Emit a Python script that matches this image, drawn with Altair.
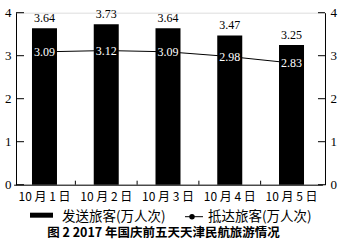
import altair as alt
import pandas as pd

days = ["10 月 1 日", "10 月 2 日", "10 月 3 日", "10 月 4 日", "10 月 5 日"]
depart = [3.64, 3.73, 3.64, 3.47, 3.25]
arrive = [3.09, 3.12, 3.09, 2.98, 2.83]
yticks = [0, 1, 2, 3, 4]
legend_labels = ["发送旅客(万人次)", "抵达旅客(万人次)"]
title_text = "图 2  2017 年国庆前五天天津民航旅游情况"

W, H = 309, 172
df = pd.DataFrame({"day": days, "depart": depart, "arrive": arrive})
df["dlab"] = [f"{v:.2f}" for v in depart]
df["alab"] = [f"{v:.2f}" for v in arrive]
tdf = pd.DataFrame({"t": yticks})
bdf = pd.DataFrame({"day": days[1:]})

SERIF = "Liberation Serif"
CJK = "Noto Sans CJK SC"
xs = alt.Scale(domain=days, paddingInner=0, paddingOuter=0, range=[-2.4, 306.4])
ys = alt.Scale(domain=[0, 4])

x_axis = alt.Axis(labelAngle=0, ticks=False, domainColor="black", domainWidth=1,
                  labelFont=CJK, labelFontSize=12, labelColor="black",
                  labelPadding=7, grid=False)
x_enc = alt.X("day:N", scale=xs, sort=days, title=None, axis=x_axis)

base = alt.Chart(df)

bars = base.mark_bar(color="black", width=25).encode(
    x=x_enc,
    y=alt.Y("depart:Q", scale=ys, title=None,
            axis=alt.Axis(values=yticks, ticks=False, grid=False, domainColor="black",
                          labelFont=SERIF, labelFontSize=13, labelColor="black",
                          labelPadding=5, format="d")),
)

line = base.mark_line(color="black", strokeWidth=1).encode(
    x=x_enc,
    y=alt.Y("arrive:Q", scale=ys, title=None,
            axis=alt.Axis(orient="right", values=yticks, ticks=False, grid=False,
                          domainColor="black", labelFont=SERIF, labelFontSize=13,
                          labelColor="black", labelPadding=5, format="d")),
)

top_text = base.mark_text(baseline="bottom", dy=-3, font=SERIF, fontSize=12, color="black").encode(
    x=x_enc,
    y=alt.Y("depart:Q", scale=ys, axis=None),
    text="dlab:N",
)

in_text = base.mark_text(baseline="middle", font=SERIF, fontSize=12, color="white").encode(
    x=x_enc,
    y=alt.Y("arrive:Q", scale=ys, axis=None),
    text="alab:N",
)

lticks = alt.Chart(tdf).mark_rule(color="black", strokeWidth=1).encode(
    y=alt.Y("t:Q", scale=ys, axis=None), x=alt.value(0), x2=alt.value(8))
rticks = alt.Chart(tdf).mark_rule(color="black", strokeWidth=1).encode(
    y=alt.Y("t:Q", scale=ys, axis=None), x=alt.value(W - 7), x2=alt.value(W))
bticks = alt.Chart(bdf).mark_rule(color="black", strokeWidth=1).encode(
    x=alt.X("day:N", scale=xs, sort=days, bandPosition=0, title=None, axis=x_axis),
    y=alt.value(H - 4), y2=alt.value(H))

ldf = pd.DataFrame({"a": [0]})
leg_rect = alt.Chart(ldf).mark_rect(color="black").encode(
    x=alt.value(14), x2=alt.value(37), y=alt.value(200), y2=alt.value(205))
leg_t1 = alt.Chart(ldf).mark_text(align="left", baseline="middle", font=CJK, fontSize=13.5,
                                  color="black", text=legend_labels[0]).encode(
    x=alt.value(46), y=alt.value(204))
leg_line = alt.Chart(ldf).mark_rule(color="black", strokeWidth=1).encode(
    x=alt.value(169), x2=alt.value(187), y=alt.value(204))
leg_dot = alt.Chart(ldf).mark_point(filled=True, color="black", size=30, opacity=1).encode(
    x=alt.value(176), y=alt.value(204))
leg_t2 = alt.Chart(ldf).mark_text(align="left", baseline="middle", font=CJK, fontSize=13.5,
                                  color="black", text=legend_labels[1]).encode(
    x=alt.value(192), y=alt.value(204))
title = alt.Chart(ldf).mark_text(align="center", baseline="middle", font=CJK, fontSize=12.5,
                                 fontWeight="bold", color="black", text=title_text).encode(
    x=alt.value(147.5), y=alt.value(220.5))

chart = alt.layer(
    bars, line, top_text, in_text, lticks, rticks, bticks,
    leg_rect, leg_t1, leg_line, leg_dot, leg_t2, title,
).resolve_scale(y="independent").properties(
    width=W, height=H,
    autosize=alt.AutoSizeParams(type="none"),
    padding={"left": 16, "top": 12.7, "right": 18, "bottom": 62},
).configure_view(stroke=None).configure(background="white")

chart.save("out.html", embed_options={"renderer": "svg", "actions": False})
